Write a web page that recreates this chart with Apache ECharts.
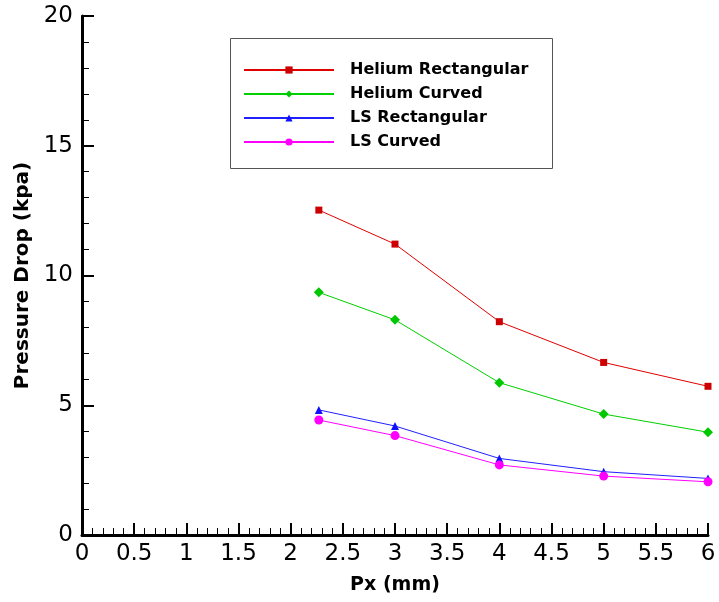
<!DOCTYPE html>
<html>
<head>
<meta charset="utf-8">
<style>
html,body{margin:0;padding:0;background:#fff;}
#chart{width:719px;height:602px;}
</style>
<script src="https://cdn.jsdelivr.net/npm/echarts@6/dist/echarts.min.js"></script>
</head>
<body>
<div id="chart"></div>
<script>
// Data
var pxValues = [2.27, 3, 4, 5, 6];
var seriesNames = ['Helium Rectangular', 'Helium Curved', 'LS Rectangular', 'LS Curved'];
var heliumRectangular = [12.52, 11.21, 8.22, 6.65, 5.73];
var heliumCurved = [9.35, 8.29, 5.87, 4.66, 3.96];
var lsRectangular = [4.82, 4.20, 2.95, 2.44, 2.18];
var lsCurved = [4.43, 3.83, 2.70, 2.27, 2.05];
var xTitle = 'Px (mm)';
var yTitle = 'Pressure Drop (kpa)';

function pairs(xs, ys) { return xs.map(function (x, i) { return [x, ys[i]]; }); }

var FONT = 'DejaVu Sans';
var chart = echarts.init(document.getElementById('chart'), null, { renderer: 'canvas' });

function mkSeries(name, vals, lineColor, markColor, symbol, size) {
  return {
    name: name,
    type: 'line',
    data: pairs(pxValues, vals),
    symbol: symbol,
    symbolSize: size,
    showSymbol: true,
    lineStyle: { width: 1, color: lineColor },
    itemStyle: { color: markColor },
    emphasis: { disabled: true },
    animation: false
  };
}

var axisCommon = {
  axisLine: { show: true, onZero: false, lineStyle: { color: '#000', width: 3 } },
  axisTick: { show: true, inside: true, length: 12, lineStyle: { color: '#000', width: 2 } },
  minorTick: { show: true, splitNumber: 5, length: 7, lineStyle: { color: '#000', width: 1 } },
  splitLine: { show: false },
  minorSplitLine: { show: false },
  axisLabel: { color: '#000', fontFamily: FONT, fontSize: 23 }
};

var option = {
  backgroundColor: '#fff',
  animation: false,
  grid: { left: 82, right: 11, top: 16, bottom: 67, containLabel: false },
  xAxis: Object.assign({}, axisCommon, {
    type: 'value', min: 0, max: 6, interval: 0.5,
    axisLabel: Object.assign({}, axisCommon.axisLabel, { margin: 8 }),
    name: xTitle, nameLocation: 'middle', nameGap: 41,
    nameTextStyle: { color: '#000', fontFamily: FONT, fontSize: 19, fontWeight: 'bold' }
  }),
  yAxis: Object.assign({}, axisCommon, {
    type: 'value', min: 0, max: 20, interval: 5,
    axisLabel: Object.assign({}, axisCommon.axisLabel, { margin: 9 }),
    name: yTitle, nameLocation: 'middle', nameGap: 48,
    nameTextStyle: { color: '#000', fontFamily: FONT, fontSize: 20, fontWeight: 'bold' }
  }),
  legend: {
    orient: 'vertical',
    left: 243, top: 62,
    itemWidth: 90, itemHeight: 9, itemGap: 8,
    padding: 0,
    data: seriesNames,
    selectedMode: false,
    textStyle: { color: '#000', fontFamily: FONT, fontSize: 16, fontWeight: 'bold', lineHeight: 16, padding: [0, 0, 0, 11] }
  },
  graphic: [{
    type: 'rect', left: 228, top: 36, z: 100,
    shape: { width: 322, height: 130 },
    style: { fill: 'none', stroke: '#555', lineWidth: 1 }
  }],
  series: [
    mkSeries(seriesNames[0], heliumRectangular, '#e00000', '#cc0000', 'rect', 7),
    mkSeries(seriesNames[1], heliumCurved, '#00d000', '#00c800', 'diamond', 10),
    mkSeries(seriesNames[2], lsRectangular, '#2020ff', '#1010ff', 'triangle', 8),
    mkSeries(seriesNames[3], lsCurved, '#ff00ff', '#ff00ff', 'circle', 9)
  ]
};
chart.setOption(option);
</script>
</body>
</html>
